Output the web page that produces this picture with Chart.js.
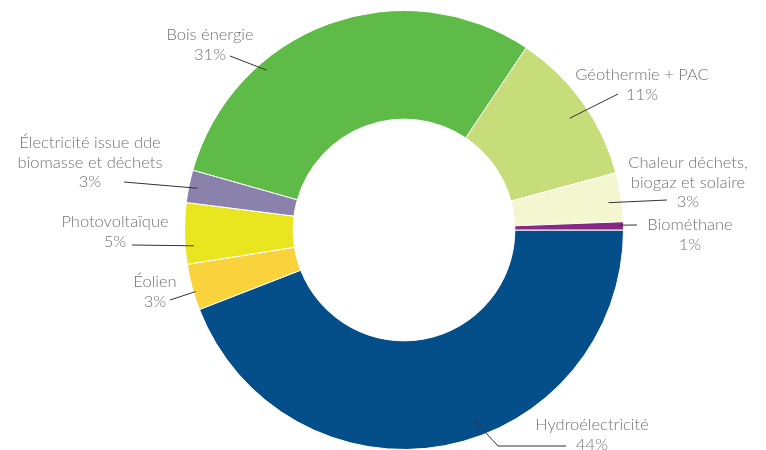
<!DOCTYPE html>
<html>
<head>
<meta charset="utf-8">
<script src="https://cdn.jsdelivr.net/npm/chart.js@4"></script>
<style>
  html, body { margin: 0; padding: 0; background: #fff; }
  #wrap { width: 766px; height: 450px; position: relative; }
</style>
</head>
<body>
<div id="wrap"><canvas id="chart"></canvas></div>
<script>
// Data (share of each source, in %)
var categories = [
	"Hydroélectricité",
	"Éolien",
	"Photovoltaïque",
	"Électricité issue dde biomasse et déchets",
	"Bois énergie",
	"Géothermie + PAC",
	"Chaleur déchets, biogaz et solaire",
	"Biométhane"
];
var values = [44.1, 3.4, 4.5, 2.4, 30.0, 11.4, 3.6, 0.6];
var percentLabels = ["44%", "3%", "5%", "3%", "31%", "11%", "3%", "1%"];

var colors = [
	"#044f8a",
	"#fad33c",
	"#e9e620",
	"#8a81ad",
	"#5fbb47",
	"#c7dd7a",
	"#f4f6cf",
	"#862a83"
];

// Label layout: name lines, text anchor, leader start, and where the leader
// ends inside the slice (fraction of slice span, fraction of outer radius)
var labelLayout = [
	{ lines: ["Hydroélectricité"], x: 592, y: 425, from: [[566, 446], [498, 446]], frac: 0.44, rad: 0.92 },
	{ lines: ["Éolien"], x: 155, y: 282, from: [[170, 300]], frac: 0.39, rad: 0.99 },
	{ lines: ["Photovoltaïque"], x: 115, y: 222, from: [[132, 245]], frac: 0.29, rad: 0.96 },
	{ lines: ["Électricité issue dde", "biomasse et déchets"], x: 90, y: 143, from: [[124, 182]], frac: 0.49, rad: 0.96 },
	{ lines: ["Bois énergie"], x: 210, y: 35, from: [[230, 56]], frac: 0.31, rad: 0.96 },
	{ lines: ["Géothermie + PAC"], x: 642, y: 75, from: [[618, 94]], frac: 0.54, rad: 0.91 },
	{ lines: ["Chaleur déchets,", "biogaz et solaire"], x: 688, y: 163, from: [[667, 200]], frac: 0.58, rad: 0.94 },
	{ lines: ["Biométhane"], x: 690, y: 225, from: [[637, 225]], frac: 0.4, rad: 0.98 }
];

var labelPlugin = {
	id: "sliceLabels",
	afterDatasetsDraw: function (chart) {
		var ctx = chart.ctx;
		var arcs = chart.getDatasetMeta(0).data;
		ctx.save();
		for (var i = 0; i < arcs.length; i++) {
			var a = arcs[i].getProps(["x", "y", "startAngle", "endAngle", "outerRadius"], true);
			var L = labelLayout[i];
			var ang = a.startAngle + (a.endAngle - a.startAngle) * L.frac;
			var r = a.outerRadius * L.rad;
			var ex = a.x + Math.cos(ang) * r;
			var ey = a.y + Math.sin(ang) * r;

			// leader line
			ctx.strokeStyle = "#333";
			ctx.lineWidth = 1;
			ctx.beginPath();
			ctx.moveTo(L.from[0][0], L.from[0][1]);
			for (var k = 1; k < L.from.length; k++) ctx.lineTo(L.from[k][0], L.from[k][1]);
			ctx.lineTo(ex, ey);
			ctx.stroke();

			// text: name lines then the percentage
			var lines = L.lines.concat([percentLabels[i]]);
			ctx.fillStyle = "#737373";
			ctx.font = "300 16.5px Lato, 'Open Sans', sans-serif";
			ctx.textAlign = "center";
			ctx.textBaseline = "middle";
			for (var j = 0; j < lines.length; j++) {
				ctx.fillText(lines[j], L.x, L.y + j * 19.5);
			}
		}
		ctx.restore();
	}
};

new Chart(document.getElementById("chart"), {
	type: "doughnut",
	data: {
		labels: categories,
		datasets: [{
			data: values,
			backgroundColor: colors,
			borderColor: "#ffffff",
			borderWidth: 1
		}]
	},
	options: {
		responsive: true,
		maintainAspectRatio: false,
		animation: false,
		rotation: 90,
		cutout: "50.5%",
		layout: { padding: { top: 10, bottom: 0, left: 42, right: 0 } },
		plugins: {
			legend: { display: false },
			tooltip: { enabled: false }
		}
	},
	plugins: [labelPlugin]
});
</script>
</body>
</html>
